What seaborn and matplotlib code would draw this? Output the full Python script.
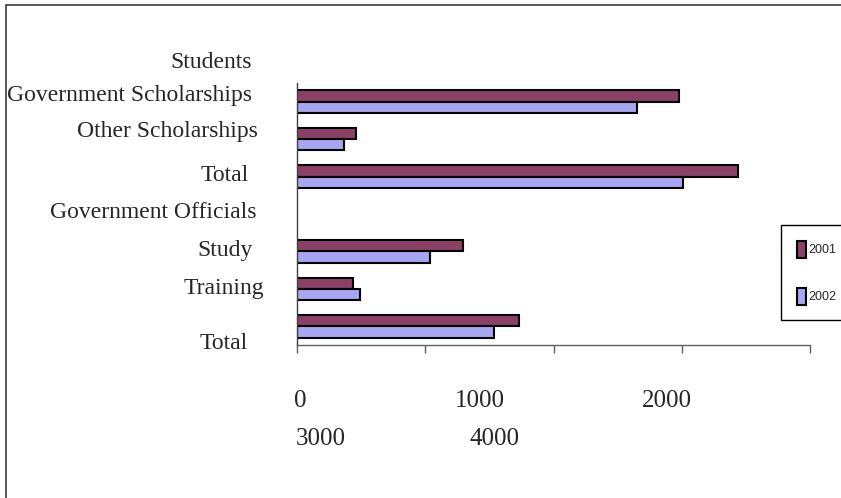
import numpy as np
import pandas as pd
import matplotlib
matplotlib.use("Agg")
import matplotlib.pyplot as plt
import matplotlib.transforms as mtransforms
from matplotlib.patches import Rectangle
import seaborn as sns

# ---- data -------------------------------------------------------------
row_keys = ["stu_gov", "stu_other", "stu_total", "off_header",
            "off_study", "off_training", "off_total"]
row_labels = ["Students\nGovernment Scholarships", "Other Scholarships", "Total",
              "Government Officials", "Study", "Training", "Total"]
years = ["2001", "2002"]
values_2001 = [2980, 460, 3440, np.nan, 1295, 435, 1730]
values_2002 = [2650, 370, 3010, np.nan, 1040, 495, 1535]
x_ticks = [0, 1000, 2000, 3000, 4000]
x_tick_labels = ["0", "1000", "2000", "3000", "4000"]
year_colors = {"2001": "#993366", "2002": "#9999FF"}

df = pd.DataFrame({
    "row": row_keys * 2,
    "year": [years[0]] * len(row_keys) + [years[1]] * len(row_keys),
    "value": values_2001 + values_2002,
}).dropna()

# ---- style ------------------------------------------------------------
sns.set_style("white")
plt.rcParams["font.family"] = ["Liberation Serif", "DejaVu Serif"]

W, H = 841, 498
fig = plt.figure(figsize=(W / 100, H / 100), dpi=100)
fig.patch.set_facecolor("white")

ax_l, ax_r, ax_t, ax_b = 297, 810, 83, 345
ax = fig.add_axes([ax_l / W, 1 - ax_b / H, (ax_r - ax_l) / W, (ax_b - ax_t) / H])

sns.barplot(data=df, y="row", x="value", hue="year", order=row_keys,
            hue_order=years, palette=year_colors, orient="h", width=0.6,
            edgecolor="black", linewidth=1.5, errorbar=None, ax=ax)

ax.set_xlim(0, 4000)
ax.set_ylim(len(row_keys) - 0.5, -0.5)
ax.set_xlabel("")
ax.set_ylabel("")

for side in ("top", "right"):
    ax.spines[side].set_visible(False)
ax.spines["left"].set_color("#404040")
ax.spines["left"].set_linewidth(1.0)
ax.spines["bottom"].set_color("#606060")
ax.spines["bottom"].set_linewidth(1.0)

# ---- y tick labels ----------------------------------------------------
ax.set_yticks(range(len(row_keys)))
ax.set_yticklabels(row_labels)
ax.tick_params(axis="y", left=False, length=0, pad=32.4, labelsize=17)

def shift(label, dx_px, dy_px):
    label.set_transform(label.get_transform() + mtransforms.ScaledTranslation(
        dx_px / 100, -dy_px / 100, fig.dpi_scale_trans))

y_offsets = [(0, -31), (6, -10), (-3, -4), (4, -3.5), (1, -3), (12, -3), (-4, 15)]
for tick, (dx, dy) in zip(ax.yaxis.get_major_ticks(), y_offsets):
    tick.label1.set_linespacing(1.75)
    shift(tick.label1, dx, dy)

# ---- x tick labels (wrapped onto two lines) ---------------------------
ax.set_xticks(x_ticks)
ax.set_xticklabels(x_tick_labels)
ax.tick_params(axis="x", bottom=True, length=6, width=1, color="#606060",
               direction="out", pad=3.5, labelsize=18)
x_offsets = [(3, 32), (55, 32), (113, 32), (-361, 70), (-316, 70)]
for tick, (dx, dy) in zip(ax.xaxis.get_major_ticks(), x_offsets):
    shift(tick.label1, dx, dy)

# ---- legend -----------------------------------------------------------
handles, labels = ax.get_legend_handles_labels()
for h in handles:
    h.set_edgecolor("black")
    h.set_linewidth(1.5)
fs = 9
fs_px = fs * 100 / 72
swatch_h = 17
hh = (swatch_h / fs_px - 0.245) / 0.65
row_gap = 51.5 - hh * fs_px
pad = 15.5
ax.legend(handles, labels, loc="upper left", mode="expand",
          bbox_to_anchor=(781 / W, 1 - 322 / H, 80 / W, 97 / H),
          bbox_transform=fig.transFigure, borderaxespad=0,
          prop={"family": ["Liberation Sans", "DejaVu Sans"], "size": fs},
          handlelength=9 / fs_px, handleheight=hh,
          handletextpad=3 / fs_px, labelspacing=row_gap / fs_px,
          borderpad=pad / fs_px, frameon=True, fancybox=False,
          shadow=False, edgecolor="black", framealpha=1)
ax.get_legend().get_frame().set_linewidth(1.0)

# ---- outer frame around the chart area --------------------------------
fig.add_artist(Rectangle((6 / W, -0.2), 1.2, 1.2 - 5 / H, fill=False,
                         transform=fig.transFigure, edgecolor="#3a3a3a",
                         linewidth=1.2, clip_on=False))

fig.savefig("out.png", dpi=100, facecolor="white")
